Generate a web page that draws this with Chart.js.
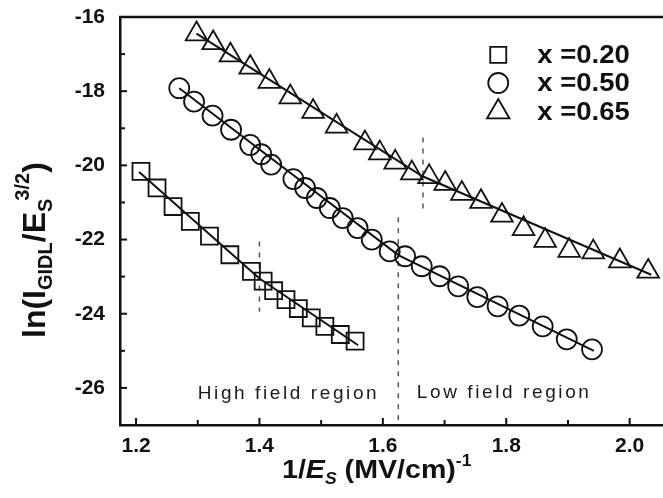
<!DOCTYPE html>
<html>
<head>
<meta charset="utf-8">
<title>ln(I_GIDL / Es^3/2) vs 1/Es</title>
<script src="https://cdn.jsdelivr.net/npm/chart.js@4.4.1/dist/chart.umd.min.js"></script>
<style>
  html, body { margin: 0; padding: 0; background: #fff; }
  #wrap { width: 663px; height: 498px; }
</style>
</head>
<body>
<div id="wrap"><canvas id="gidlChart" width="663" height="498"></canvas></div>
<script>
// series x = 0.20 (squares)
const sqX = [1.208, 1.234, 1.260, 1.288, 1.319, 1.352, 1.387, 1.406, 1.423, 1.443, 1.463, 1.484, 1.506, 1.531, 1.555];
const sqY = [-20.16, -20.61, -21.11, -21.51, -21.91, -22.41, -22.86, -23.12, -23.38, -23.62, -23.86, -24.11, -24.34, -24.56, -24.74];
// series x = 0.50 (circles)
const ciX = [1.270, 1.294, 1.324, 1.354, 1.385, 1.403, 1.419, 1.455, 1.474, 1.493, 1.514, 1.535, 1.559, 1.582, 1.611,
             1.636, 1.663, 1.692, 1.722, 1.753, 1.786, 1.821, 1.859, 1.898, 1.939];
const ciY = [-17.92, -18.28, -18.66, -19.04, -19.45, -19.70, -19.98, -20.37, -20.61, -20.88, -21.15, -21.42, -21.69, -22.00, -22.32,
             -22.45, -22.72, -22.99, -23.26, -23.55, -23.80, -24.05, -24.34, -24.69, -24.96];
// series x = 0.65 (triangles)
const trX = [1.298, 1.325, 1.353, 1.385, 1.416, 1.450, 1.487, 1.525, 1.571, 1.595, 1.620, 1.647,
             1.675, 1.701, 1.728, 1.759, 1.793, 1.828, 1.863, 1.902, 1.941, 1.984, 2.030];
const trY = [-16.46, -16.70, -17.03, -17.36, -17.74, -18.16, -18.55, -18.95, -19.40, -19.67, -19.92, -20.21,
             -20.31, -20.49, -20.76, -20.98, -21.35, -21.71, -22.03, -22.30, -22.34, -22.58, -22.86];

// linear fits (high field / low field segments)
const sqFitX = [1.205, 1.400, 1.560];
const sqFitY = [-20.18, -23.05, -24.85];
const ciFitX = [1.270, 1.625, 1.942];
const ciFitY = [-17.92, -22.42, -25.00];
const trFitX = [1.298, 1.665, 2.035];
const trFitY = [-16.45, -20.30, -22.95];

// dashed region boundaries
const dashX = [1.400, 1.625, 1.665];
const dashYTop = [-22.05, -21.40, -19.25];
const dashYBottom = [-23.95, -27.00, -21.20];

const seriesLabels = ['x =0.20', 'x =0.50', 'x =0.65'];
const legendX = 1.787;
const legendY = [-17.02, -17.78, -18.56];
const regionLabels = ['High field region', 'Low field region'];
const regionLabelX = [1.300, 1.655];
const regionLabelY = [-26.30, -26.28];

const xTicks = [1.2, 1.4, 1.6, 1.8, 2.0];
const xMinorTicks = [1.3, 1.5, 1.7, 1.9];
const yTicks = [-16, -18, -20, -22, -24, -26];
const yMinorTicks = [-17, -19, -21, -23, -25];

const toPoints = (xs, ys) => xs.map((x, i) => ({ x: x, y: ys[i] }));

const ink = '#111';
const markerStyles = ['rect', 'circle', 'triangle'];
const markerRadius = [12, 10, 12.5];

const datasets = [];
[[sqX, sqY], [ciX, ciY], [trX, trY]].forEach((s, i) => {
  datasets.push({
    label: seriesLabels[i],
    data: toPoints(s[0], s[1]),
    showLine: false,
    pointStyle: markerStyles[i],
    pointRadius: markerRadius[i],
    pointBorderWidth: 1.8,
    pointBorderColor: ink,
    pointBackgroundColor: 'rgba(0,0,0,0)'
  });
});
[[sqFitX, sqFitY], [ciFitX, ciFitY], [trFitX, trFitY]].forEach(f => {
  datasets.push({
    data: toPoints(f[0], f[1]),
    showLine: true,
    borderColor: ink,
    borderWidth: 2,
    pointRadius: 0
  });
});
dashX.forEach((x, i) => {
  datasets.push({
    data: [{ x: x, y: dashYTop[i] }, { x: x, y: dashYBottom[i] }],
    showLine: true,
    borderColor: '#555',
    borderWidth: 1.5,
    borderDash: [5, 6],
    pointRadius: 0
  });
});

// draw a run of text pieces (with sub/superscripts) starting at x
function drawRich(ctx, parts, x, y) {
  let cx = x;
  parts.forEach(p => {
    ctx.font = p.font;
    ctx.fillText(p.t, cx, y + (p.dy || 0));
    cx += ctx.measureText(p.t).width + (p.gap || 0);
  });
  return cx - x;
}
// spaced-out text, one glyph at a time
function drawSpaced(ctx, text, x, y, spacing) {
  let cx = x;
  for (const ch of text) {
    ctx.fillText(ch, cx, y);
    cx += ctx.measureText(ch).width + spacing;
  }
}

const decorPlugin = {
  id: 'decor',
  afterDraw(chart) {
    const ctx = chart.ctx;
    const { left, right, top, bottom } = chart.chartArea;
    const xs = chart.scales.x, ys = chart.scales.y;
    ctx.save();
    ctx.strokeStyle = ink;
    ctx.fillStyle = ink;
    ctx.textAlign = 'left';

    // top frame line
    ctx.lineWidth = 2.5;
    ctx.beginPath();
    ctx.moveTo(left - 1, top);
    ctx.lineTo(right, top);
    ctx.stroke();

    // inward ticks
    ctx.lineWidth = 2;
    const tick = (x1, y1, x2, y2) => { ctx.beginPath(); ctx.moveTo(x1, y1); ctx.lineTo(x2, y2); ctx.stroke(); };
    xTicks.forEach(v => { const p = xs.getPixelForValue(v); tick(p, bottom, p, bottom - 7); });
    xMinorTicks.forEach(v => { const p = xs.getPixelForValue(v); tick(p, bottom, p, bottom - 5); });
    yTicks.forEach(v => { const p = ys.getPixelForValue(v); tick(left, p, left + 7, p); });
    yMinorTicks.forEach(v => { const p = ys.getPixelForValue(v); tick(left, p, left + 5, p); });

    // region labels
    ctx.font = '19px "Liberation Sans", Arial, sans-serif';
    ctx.fillStyle = '#1a1a1a';
    ctx.textBaseline = 'alphabetic';
    regionLabels.forEach((t, i) => {
      drawSpaced(ctx, t, xs.getPixelForValue(regionLabelX[i]), ys.getPixelForValue(regionLabelY[i]), 2.6);
    });
    ctx.fillStyle = ink;

    // legend
    const lx = xs.getPixelForValue(legendX);
    ctx.lineWidth = 1.8;
    legendY.forEach((v, i) => {
      const ry = ys.getPixelForValue(v);
      ctx.beginPath();
      if (i === 0) {
        ctx.rect(lx - 8, ry - 8, 16, 16);
      } else if (i === 1) {
        ctx.arc(lx, ry, 10, 0, Math.PI * 2);
      } else {
        const r = 13;
        ctx.moveTo(lx, ry - r);
        ctx.lineTo(lx + r * Math.sin(Math.PI * 2 / 3), ry + r / 2);
        ctx.lineTo(lx - r * Math.sin(Math.PI * 2 / 3), ry + r / 2);
        ctx.closePath();
      }
      ctx.stroke();
      ctx.save();
      ctx.translate(lx + 39, ry + 1);
      ctx.scale(1.1, 1);
      ctx.font = 'bold 25px "Liberation Sans", Arial, sans-serif';
      ctx.textBaseline = 'middle';
      ctx.fillText(seriesLabels[i], 0, 0);
      ctx.restore();
    });

    // x axis title: 1/E_S (MV/cm)^-1
    ctx.textBaseline = 'alphabetic';
    const big = 'bold 26px "Liberation Sans", Arial, sans-serif';
    const bigIt = 'italic bold 26px "Liberation Sans", Arial, sans-serif';
    const small = 'bold 16px "Liberation Sans", Arial, sans-serif';
    const smallIt = 'italic bold 16px "Liberation Sans", Arial, sans-serif';
    const xParts = [
      { t: '1/', font: big },
      { t: 'E', font: bigIt },
      { t: 'S', font: smallIt, dy: 6 },
      { t: ' (MV/cm)', font: big },
      { t: '-1', font: small, dy: -12 }
    ];
    ctx.save();
    ctx.translate(282, 478);
    ctx.scale(1.1, 1);
    drawRich(ctx, xParts, 0, 0);
    ctx.restore();

    // y axis title: ln(I_GIDL / E_S^3/2)
    const yBig = 'bold 32px "Liberation Sans", Arial, sans-serif';
    const ySmall = 'bold 20px "Liberation Sans", Arial, sans-serif';
    const yParts = [
      { t: 'ln(I', font: yBig },
      { t: 'GIDL', font: ySmall, dy: 7 },
      { t: '/E', font: yBig },
      { t: 'S', font: ySmall, dy: 7, gap: -2 },
      { t: '3/2', font: ySmall, dy: -16 },
      { t: ')', font: yBig }
    ];
    ctx.save();
    ctx.translate(45, 338);
    ctx.rotate(-Math.PI / 2);
    drawRich(ctx, yParts, 0, 0);
    ctx.restore();
    ctx.restore();
  }
};

const tickFont = { family: '"Liberation Sans", Arial, sans-serif', size: 21, weight: 'bold' };

new Chart(document.getElementById('gidlChart'), {
  type: 'scatter',
  data: { datasets: datasets },
  options: {
    responsive: false,
    animation: false,
    layout: { autoPadding: false, padding: { top: 17, right: 0, left: 0, bottom: 0 } },
    plugins: { legend: { display: false }, tooltip: { enabled: false } },
    scales: {
      x: {
        type: 'linear',
        min: 1.174,
        max: 2.054,
        grid: { display: false },
        border: { display: true, color: ink, width: 2.5 },
        afterBuildTicks: s => { s.ticks = xTicks.map(v => ({ value: v })); },
        afterFit: s => { s.height = 73; s.paddingLeft = 0; s.paddingRight = 0; },
        ticks: {
          color: ink,
          font: tickFont,
          padding: 1,
          maxRotation: 0,
          autoSkip: false,
          callback: v => Number(v).toFixed(1)
        }
      },
      y: {
        type: 'linear',
        min: -27,
        max: -16,
        grid: { display: false },
        border: { display: true, color: ink, width: 2.5 },
        afterBuildTicks: s => { s.ticks = yTicks.map(v => ({ value: v })); },
        afterFit: s => { s.width = 120; s.paddingTop = 0; s.paddingBottom = 0; },
        ticks: {
          color: ink,
          font: tickFont,
          padding: 7,
          autoSkip: false,
          callback: v => String(v)
        }
      }
    }
  },
  plugins: [decorPlugin]
});
</script>
</body>
</html>
